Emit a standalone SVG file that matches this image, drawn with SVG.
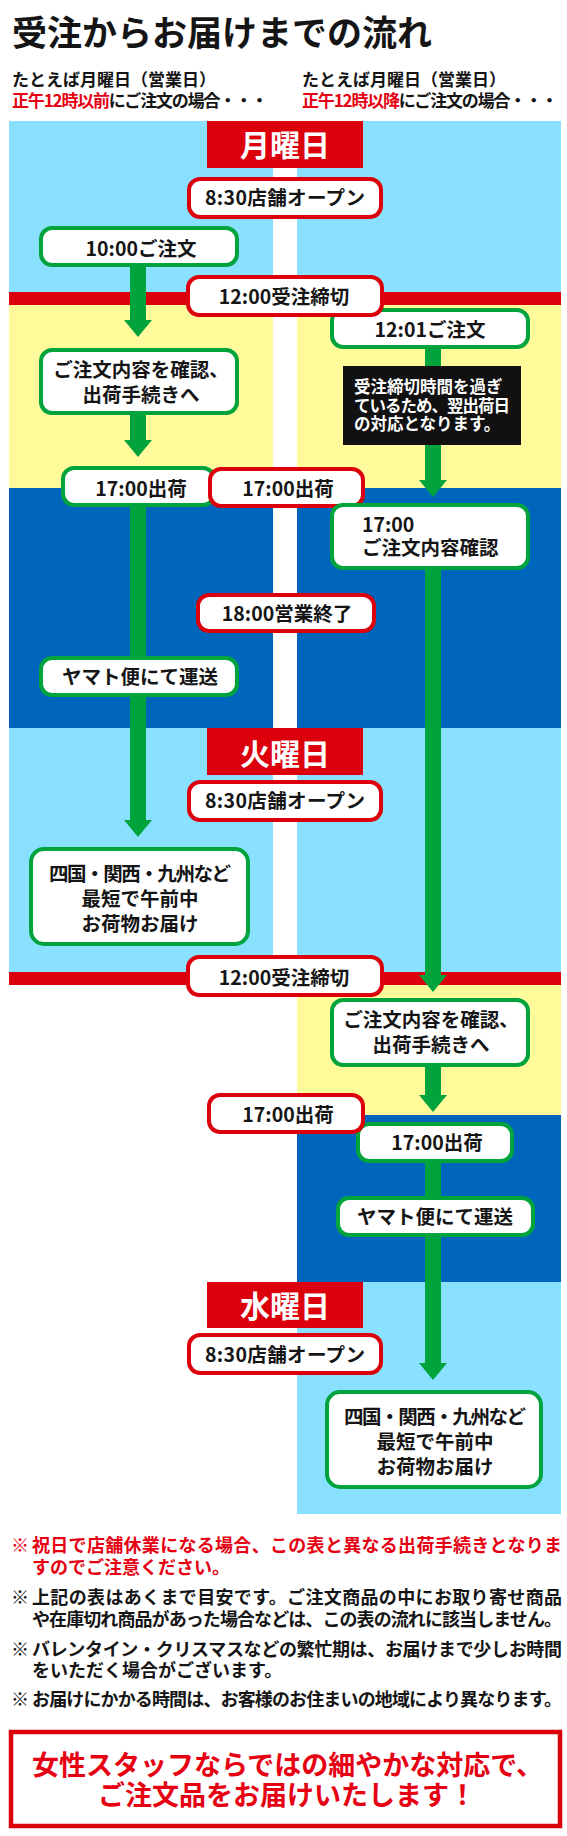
<svg xmlns="http://www.w3.org/2000/svg" width="567" height="1836" viewBox="0 0 567 1836">
<style>
text{font-family:'Noto Sans CJK JP','Noto Sans',sans-serif;font-weight:700;fill:#151515}
.ttl{font-size:35px}
.sub{font-size:17px}
.red{fill:#E60012}
.lbl{font-size:19.5px;text-anchor:middle}
.lft{font-size:19.5px}
.day{font-size:30px;fill:#fff;text-anchor:middle}
.blk{font-size:16.5px;fill:#fff}
.note{font-size:18px}
.big{font-size:27px;fill:#E60012}
.rb{fill:#fff;stroke:#DC000C;stroke-width:4}
.gb{fill:#fff;stroke:#00A33C;stroke-width:4}
.dl{fill:#DC000C}
.flow{stroke:#00A33C;stroke-width:16;fill:none;marker-end:url(#ah)}
</style>
<defs>
<marker id="ah" markerUnits="userSpaceOnUse" viewBox="0 -14 17 28" markerWidth="17" markerHeight="28" refX="0" refY="0" orient="auto"><path d="M0,-14L17,0L0,14z" fill="#00A33C"/></marker>
</defs>
<rect width="567" height="1836" fill="#fff"/>
<g id="header">
<text class="ttl" x="12" y="46">受注からお届けまでの流れ</text>
<text class="sub" x="12" y="85.5">たとえば月曜日（営業日）<tspan x="12" y="107" textLength="256"><tspan class="red">正午12時以前</tspan>にご注文の場合・・・</tspan></text>
<text class="sub" x="302" y="85.5">たとえば月曜日（営業日）<tspan x="302" y="107" textLength="256"><tspan class="red">正午12時以降</tspan>にご注文の場合・・・</tspan></text>
</g>
<g id="background">
<rect x="9" y="121" width="552" height="171" fill="#8AE0FF"/>
<rect x="9" y="305" width="552" height="183" fill="#FFFA9A"/>
<rect x="9" y="488" width="552" height="240" fill="#0066BB"/>
<rect x="9" y="728" width="552" height="244" fill="#8AE0FF"/>
<rect x="297" y="985" width="264" height="130" fill="#FFFA9A"/>
<rect x="297" y="1115" width="264" height="167" fill="#0066BB"/>
<rect x="297" y="1282" width="264" height="232" fill="#8AE0FF"/>
<rect x="273" y="121" width="24" height="851" fill="#fff"/>
<rect x="9" y="292" width="552" height="13" fill="#DC000C"/>
<rect x="9" y="972" width="552" height="13" fill="#DC000C"/>
</g>
<g id="connectors">
<line class="flow" x1="138" y1="265" x2="138" y2="320"/>
<line class="flow" x1="138" y1="413" x2="138" y2="440"/>
<line class="flow" x1="138" y1="505" x2="138" y2="820"/>
<line class="flow" x1="433" y1="347" x2="433" y2="480"/>
<line class="flow" x1="433" y1="568" x2="433" y2="975"/>
<line class="flow" x1="433" y1="1065" x2="433" y2="1095"/>
<line class="flow" x1="433" y1="1159" x2="433" y2="1363"/>
</g>
<g id="mon-label"><rect class="dl" x="207" y="121" width="156" height="47"/><text class="day" x="285" y="155.5">月曜日</text></g>
<g id="mon-open"><rect class="rb" x="189" y="179" width="192" height="38" rx="11"/><text class="lbl" x="285" y="205" textLength="160">8:30店舗オープン</text></g>
<g id="mon-order1000"><rect class="gb" x="41" y="228" width="196" height="37" rx="11"/><text class="lbl" x="141" y="256">10:00ご注文</text></g>
<g id="mon-order1201"><rect class="gb" x="332" y="310" width="196" height="37" rx="11"/><text class="lbl" x="430" y="337">12:01ご注文</text></g>
<g id="mon-cutoff"><rect class="rb" x="188" y="277" width="194" height="38" rx="11"/><text class="lbl" x="284" y="304">12:00受注締切</text></g>
<g id="mon-note"><rect x="343" y="366" width="178" height="79" fill="#111"/>
<text class="blk" x="354" y="393">受注締切時間を過ぎ<tspan x="354" y="412" textLength="156">ているため、翌出荷日</tspan><tspan x="354" y="430">の対応となります。</tspan></text></g>
<g id="mon-confirm"><rect class="gb" x="41" y="350" width="196" height="63" rx="11"/><text class="lbl" x="141" y="377">ご注文内容を確認、<tspan x="141" y="402">出荷手続きへ</tspan></text></g>
<g id="mon-ship-green"><rect class="gb" x="63" y="468" width="151" height="37" rx="11"/><text class="lbl" x="141" y="496">17:00出荷</text></g>
<g id="mon-ship-red"><rect class="rb" x="210" y="469" width="153" height="37" rx="11"/><text class="lbl" x="288" y="496">17:00出荷</text></g>
<g id="mon-confirm1700"><rect class="gb" x="332" y="505" width="196" height="63" rx="11"/><text class="lft" x="362" y="532">17:00<tspan x="362" y="555">ご注文内容確認</tspan></text></g>
<g id="mon-close"><rect class="rb" x="198" y="595" width="176" height="36" rx="11"/><text class="lbl" x="287" y="621">18:00営業終了</text></g>
<g id="mon-yamato"><rect class="gb" x="41" y="658" width="196" height="37" rx="11"/><text class="lbl" x="140" y="684">ヤマト便にて運送</text></g>
<g id="tue-label"><rect class="dl" x="207" y="728" width="156" height="47"/><text class="day" x="285" y="765">火曜日</text></g>
<g id="tue-open"><rect class="rb" x="189" y="782" width="192" height="38" rx="11"/><text class="lbl" x="285" y="808" textLength="160">8:30店舗オープン</text></g>
<g id="tue-deliver"><rect class="gb" x="31" y="849" width="217" height="95" rx="13"/><text class="lbl" x="140" y="881"><tspan x="140" y="881" textLength="182">四国・関西・九州など</tspan><tspan x="140" y="906">最短で午前中</tspan><tspan x="140" y="931">お荷物お届け</tspan></text></g>
<g id="tue-cutoff"><rect class="rb" x="188" y="957" width="194" height="38" rx="11"/><text class="lbl" x="284" y="985">12:00受注締切</text></g>
<g id="tue-confirm"><rect class="gb" x="332" y="1000" width="196" height="65" rx="11"/><text class="lbl" x="431" y="1027">ご注文内容を確認、<tspan x="431" y="1052">出荷手続きへ</tspan></text></g>
<g id="tue-ship-green"><rect class="gb" x="358" y="1124" width="154" height="37" rx="11"/><text class="lbl" x="437" y="1150">17:00出荷</text></g>
<g id="tue-ship-red"><rect class="rb" x="209" y="1095" width="154" height="37" rx="11"/><text class="lbl" x="288" y="1122">17:00出荷</text></g>
<g id="tue-yamato"><rect class="gb" x="338" y="1198" width="195" height="37" rx="11"/><text class="lbl" x="435" y="1224">ヤマト便にて運送</text></g>
<g id="wed-label"><rect class="dl" x="207" y="1282" width="156" height="46"/><text class="day" x="285" y="1316.5">水曜日</text></g>
<g id="wed-open"><rect class="rb" x="189" y="1335" width="192" height="38" rx="11"/><text class="lbl" x="285" y="1362" textLength="160">8:30店舗オープン</text></g>
<g id="wed-deliver"><rect class="gb" x="327" y="1392" width="214" height="95" rx="13"/><text class="lbl" x="435" y="1424"><tspan x="435" y="1424" textLength="182">四国・関西・九州など</tspan><tspan x="435" y="1449">最短で午前中</tspan><tspan x="435" y="1474">お荷物お届け</tspan></text></g>
<g id="notes">
<text class="note red" x="11" y="1552">※</text>
<text class="note red" x="32" y="1552"><tspan x="32" y="1552" textLength="530">祝日で店舗休業になる場合、この表と異なる出荷手続きとなりま</tspan><tspan x="32" y="1573.5">すのでご注意ください。</tspan></text>
<text class="note" x="11" y="1604">※</text>
<text class="note" x="32" y="1604"><tspan x="32" y="1604" textLength="530">上記の表はあくまで目安です。ご注文商品の中にお取り寄せ商品</tspan><tspan x="32" y="1626" textLength="530">や在庫切れ商品があった場合などは、この表の流れに該当しません。</tspan></text>
<text class="note" x="11" y="1656">※</text>
<text class="note" x="32" y="1656"><tspan x="32" y="1656" textLength="530">バレンタイン・クリスマスなどの繁忙期は、お届けまで少しお時間</tspan><tspan x="32" y="1677">をいただく場合がございます。</tspan></text>
<text class="note" x="11" y="1706">※</text>
<text class="note" x="32" y="1706" textLength="530">お届けにかかる時間は、お客様のお住まいの地域により異なります。</text>
</g>
<g id="message">
<rect x="11" y="1732" width="549" height="94" fill="#fff" stroke="#DC000C" stroke-width="4.5"/>
<text class="big" x="32" y="1775">女性スタッフならではの細やかな対応で、<tspan x="98" y="1805">ご注文品をお届けいたします！</tspan></text>
</g>
</svg>
